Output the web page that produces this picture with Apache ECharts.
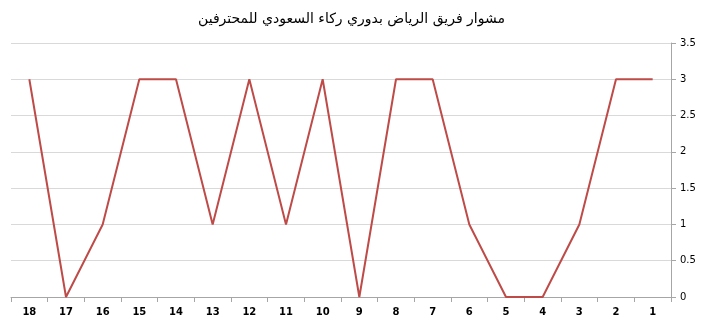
<!DOCTYPE html>
<html><head><meta charset="utf-8">
<script src="https://cdn.jsdelivr.net/npm/echarts@6/dist/echarts.min.js"></script>
<style>html,body{margin:0;padding:0;background:#fff}#c{width:703px;height:326px}</style>
</head><body><div id="c"></div>
<script>
const title = 'مشوار فريق الرياض بدوري ركاء السعودي للمحترفين';
const rounds = ['1','2','3','4','5','6','7','8','9','10','11','12','13','14','15','16','17','18'];
const points = [3,3,1,0,0,1,3,3,0,3,1,3,1,3,3,1,0,3];
const yTicks = {min:0, max:3.5, interval:0.5};
const chart = echarts.init(document.getElementById('c'));
chart.setOption({
  animation:false,
  title:{text:title,left:'center',top:7,textStyle:{fontFamily:'DejaVu Sans',fontSize:14,fontWeight:'normal',color:'#000'}},
  grid:{left:11,right:32,top:43,bottom:29},
  xAxis:{type:'category',data:rounds,inverse:true,boundaryGap:true,
    axisLine:{lineStyle:{color:'#a6a6a6'}},
    axisTick:{show:true,length:5,lineStyle:{color:'#a6a6a6'}},
    axisLabel:{color:'#000',fontFamily:'DejaVu Sans',fontWeight:'bold',fontSize:10,margin:10},
    splitLine:{show:false}},
  yAxis:{type:'value',position:'right',min:yTicks.min,max:yTicks.max,interval:yTicks.interval,
    axisLine:{show:true,lineStyle:{color:'#a6a6a6'}},
    axisTick:{show:true,length:5,lineStyle:{color:'#a6a6a6'}},
    axisLabel:{color:'#000',fontFamily:'DejaVu Sans',fontSize:10,margin:9},
    splitLine:{lineStyle:{color:'#d9d9d9',width:1}}},
  series:[{type:'line',data:points,symbol:'none',lineStyle:{color:'#BE4B48',width:2}}]
});
</script></body></html>
